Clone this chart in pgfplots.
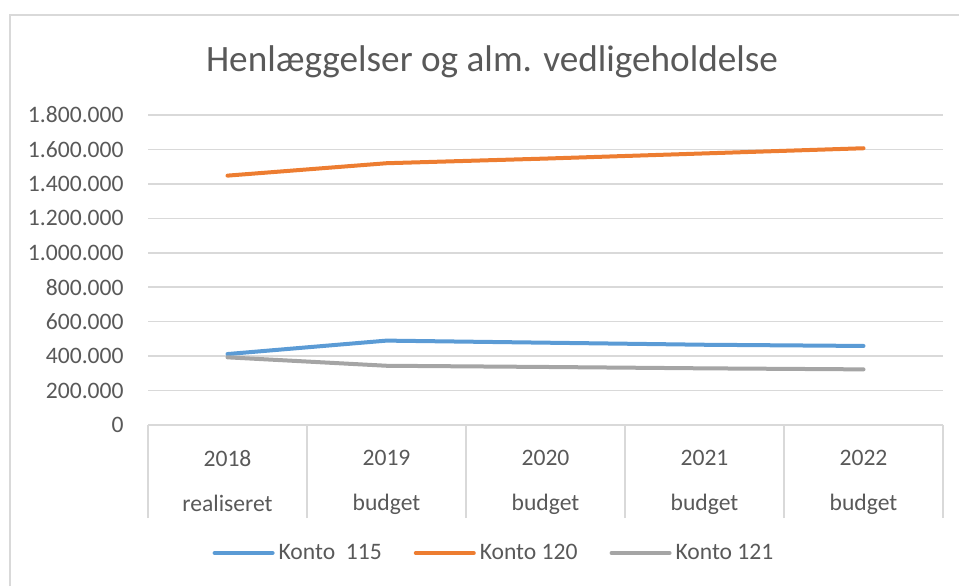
\documentclass[border=0pt]{standalone}
\usepackage{pgfplots}
\pgfplotsset{compat=1.18}
\usepackage{fontspec}
\setmainfont{Carlito}
\definecolor{txt}{HTML}{595959}
\definecolor{grd}{HTML}{D9D9D9}
\definecolor{c115}{HTML}{5B9BD5}
\definecolor{c120}{HTML}{ED7D31}
\definecolor{c121}{HTML}{A5A5A5}
\begin{document}
\begin{tikzpicture}
\useasboundingbox (0,0) rectangle (479.5pt,293pt);
\draw[grd, line width=1pt] (5pt,0) -- (5pt,285.5pt) -- (479.5pt,285.5pt);
\node[txt, font=\fontsize{18.6pt}{22pt}\selectfont] at (246pt,262pt) {Henlæggelser og alm. vedligeholdelse};
\begin{axis}[
  at={(74pt,80.5pt)}, anchor=south west,
  scale only axis, width=397.5pt, height=155pt,
  xmin=-0.5, xmax=4.5, ymin=0, ymax=1800000,
  ytick={0,200000,...,1800000},
  scaled y ticks=false,
  /pgf/number format/.cd, fixed, 1000 sep={.}, assume math mode=true, /pgfplots/.cd,
  ymajorgrids, grid style={grd, line width=0.75pt},
  axis line style={draw=none},
  xtick pos=bottom, ytick pos=left,
  ytick style={draw=none},
  xtick={0,1,2,3,4},
  xticklabels={{2018\\[8.5pt]realiseret},{2019\\[8.5pt]budget},{2020\\[8.5pt]budget},{2021\\[8.5pt]budget},{2022\\[8.5pt]budget}},
  major tick length=0pt,
  xticklabel style={align=center, anchor=north, inner sep=0pt, yshift=-12.5pt},
  yticklabel style={anchor=east, inner sep=0pt, xshift=-12pt},
  tick label style={txt, font=\fontsize{11.8pt}{14pt}\selectfont},
  extra x ticks={-0.5,0.5,1.5,2.5,3.5,4.5},
  extra x tick labels={},
  extra x tick style={major tick length=46.5pt, tick align=outside, tick style={draw=grd, line width=0.75pt}, grid=none},
  legend columns=3,
  legend style={at={(0.4365,-0.413)}, anchor=center, draw=none, fill=none,
    font=\fontsize{11.8pt}{14pt}\selectfont, text=txt,
    /tikz/every even column/.append style={column sep=14pt}},
  legend image code/.code={\draw[#1, line cap=round] (0pt,0pt) -- (29pt,0pt);},
  every axis plot/.append style={line width=2pt, line cap=round, line join=round, mark=none},
]
\addplot[c115] coordinates {(0,412000) (1,490000) (2,478000) (3,466000) (4,459000)};
\addlegendentry{Konto\ \ 115}
\addplot[c120] coordinates {(0,1448000) (1,1520000) (2,1547000) (3,1577000) (4,1607000)};
\addlegendentry{Konto 120}
\addplot[c121] coordinates {(0,393000) (1,344000) (2,337000) (3,329000) (4,323000)};
\addlegendentry{Konto 121}
\end{axis}
\end{tikzpicture}
\end{document}
